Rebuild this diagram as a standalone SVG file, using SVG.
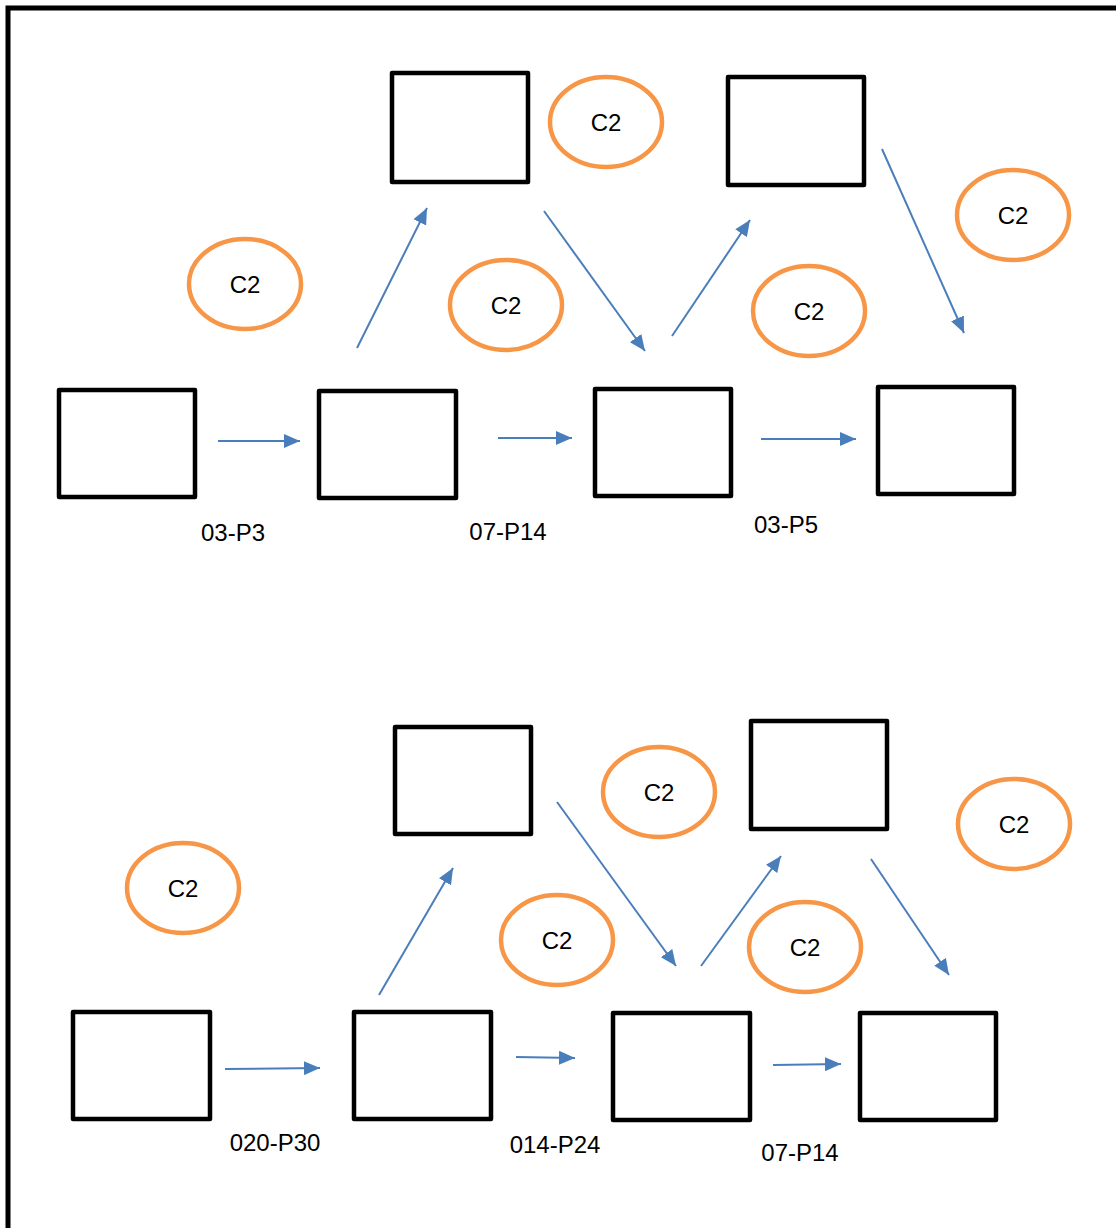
<svg xmlns="http://www.w3.org/2000/svg" width="1116" height="1228" viewBox="0 0 1116 1228">
<defs>
<style>
.box{fill:#fff;stroke:#000;stroke-width:4.5;stroke-linejoin:round}
.c{fill:#fff;stroke:#F79646;stroke-width:4.5}
.a{stroke:#4A7EBB;stroke-width:2;fill:none;marker-end:url(#ah)}
text{font-family:"Liberation Sans",Arial,sans-serif;font-size:24px;fill:#000;text-anchor:middle}
</style>
<marker id="ah" viewBox="0 0 16 14" refX="16" refY="7" markerWidth="16" markerHeight="14" markerUnits="userSpaceOnUse" orient="auto">
<path d="M0,0 L16,7 L0,14 Z" fill="#4A7EBB"/>
</marker>
</defs>
<rect x="0" y="0" width="1116" height="1228" fill="#fff"/>
<rect x="8" y="8" width="1200" height="1300" fill="none" stroke="#000" stroke-width="5"/>
<g id="connectors">
<line class="a" x1="218" y1="441" x2="300" y2="441"/>
<line class="a" x1="498" y1="438" x2="572" y2="438"/>
<line class="a" x1="761" y1="439" x2="856" y2="439"/>
<line class="a" x1="357" y1="348" x2="427" y2="208"/>
<line class="a" x1="544" y1="211" x2="645" y2="351"/>
<line class="a" x1="672" y1="336" x2="750" y2="220"/>
<line class="a" x1="882" y1="149" x2="964" y2="333"/>
<line class="a" x1="225" y1="1069" x2="320" y2="1068"/>
<line class="a" x1="516" y1="1057" x2="575" y2="1058"/>
<line class="a" x1="773" y1="1065" x2="841" y2="1064"/>
<line class="a" x1="379" y1="995" x2="453" y2="868"/>
<line class="a" x1="557" y1="802" x2="676" y2="966"/>
<line class="a" x1="701" y1="966" x2="781" y2="856"/>
<line class="a" x1="871" y1="859" x2="949" y2="975"/>
</g>
<g id="n1"><rect class="box" x="59" y="390" width="136" height="107"/></g>
<g id="n2"><rect class="box" x="319" y="391" width="137" height="107"/></g>
<g id="n3"><rect class="box" x="595" y="389" width="136" height="107"/></g>
<g id="n4"><rect class="box" x="878" y="387" width="136" height="107"/></g>
<g id="n5"><rect class="box" x="392" y="73" width="136" height="109"/></g>
<g id="n6"><rect class="box" x="728" y="77" width="136" height="108"/></g>
<g id="n7"><rect class="box" x="73" y="1012" width="137" height="107"/></g>
<g id="n8"><rect class="box" x="354" y="1012" width="137" height="107"/></g>
<g id="n9"><rect class="box" x="613" y="1013" width="137" height="107"/></g>
<g id="n10"><rect class="box" x="860" y="1013" width="136" height="107"/></g>
<g id="n11"><rect class="box" x="395" y="727" width="136" height="107"/></g>
<g id="n12"><rect class="box" x="751" y="721" width="136" height="108"/></g>
<g id="e1"><ellipse class="c" cx="245" cy="284" rx="56" ry="45"/><text x="245" y="293">C2</text></g>
<g id="e2"><ellipse class="c" cx="606" cy="122" rx="56" ry="45"/><text x="606" y="131">C2</text></g>
<g id="e3"><ellipse class="c" cx="506" cy="305" rx="56" ry="45"/><text x="506" y="314">C2</text></g>
<g id="e4"><ellipse class="c" cx="809" cy="311" rx="56" ry="45"/><text x="809" y="320">C2</text></g>
<g id="e5"><ellipse class="c" cx="1013" cy="215" rx="56" ry="45"/><text x="1013" y="224">C2</text></g>
<g id="e6"><ellipse class="c" cx="183" cy="888" rx="56" ry="45"/><text x="183" y="897">C2</text></g>
<g id="e7"><ellipse class="c" cx="659" cy="792" rx="56" ry="45"/><text x="659" y="801">C2</text></g>
<g id="e8"><ellipse class="c" cx="557" cy="940" rx="56" ry="45"/><text x="557" y="949">C2</text></g>
<g id="e9"><ellipse class="c" cx="805" cy="947" rx="56" ry="45"/><text x="805" y="956">C2</text></g>
<g id="e10"><ellipse class="c" cx="1014" cy="824" rx="56" ry="45"/><text x="1014" y="833">C2</text></g>
<g id="labels">
<text x="233" y="541">03-P3</text>
<text x="508" y="540">07-P14</text>
<text x="786" y="533">03-P5</text>
<text x="275" y="1151">020-P30</text>
<text x="555" y="1153">014-P24</text>
<text x="800" y="1161">07-P14</text>
</g>
</svg>
